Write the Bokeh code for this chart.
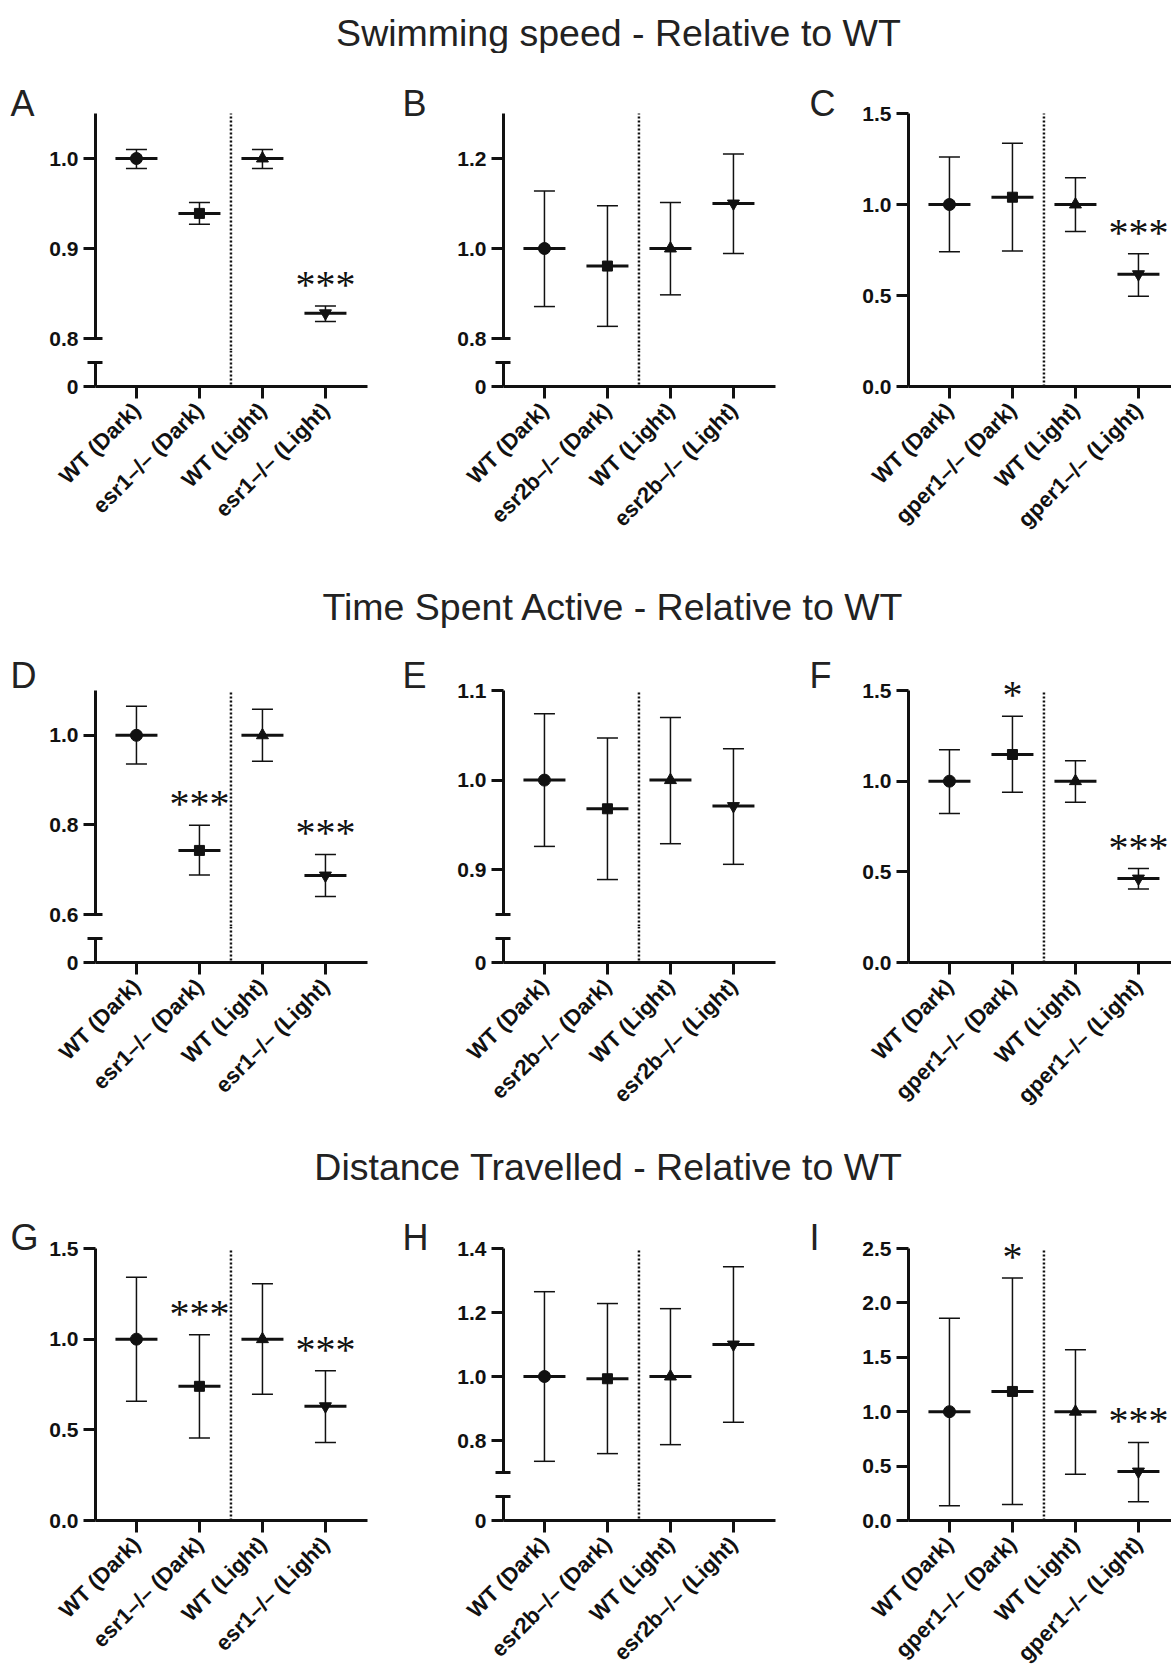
import math
from bokeh.plotting import figure
from bokeh.layouts import column, row
from bokeh.models import (Range1d, FixedTicker, Span, Whisker, TeeHead,
                          ColumnDataSource, Label, LabelSet, NumeralTickFormatter)
from bokeh.embed import file_html
from bokeh.resources import INLINE

# ---------------- data ----------------
section_titles = ["Swimming speed - Relative to WT",
                  "Time Spent Active - Relative to WT",
                  "Distance Travelled - Relative to WT"]
panel_letters = ["A", "B", "C", "D", "E", "F", "G", "H", "I"]

cats_esr1 = ["WT (Dark)", "esr1–/– (Dark)", "WT (Light)", "esr1–/– (Light)"]
cats_esr2b = ["WT (Dark)", "esr2b–/– (Dark)", "WT (Light)", "esr2b–/– (Light)"]
cats_gper1 = ["WT (Dark)", "gper1–/– (Dark)", "WT (Light)", "gper1–/– (Light)"]

# Swimming speed
speed_esr1_mean = [1.000, 0.939, 1.000, 0.828]
speed_esr1_upper = [1.010, 0.951, 1.010, 0.836]
speed_esr1_lower = [0.989, 0.927, 0.989, 0.819]
speed_esr1_sig = ["", "", "", "***"]

speed_esr2b_mean = [1.000, 0.961, 1.000, 1.100]
speed_esr2b_upper = [1.128, 1.095, 1.102, 1.210]
speed_esr2b_lower = [0.871, 0.827, 0.897, 0.989]
speed_esr2b_sig = ["", "", "", ""]

speed_gper1_mean = [1.000, 1.040, 1.000, 0.617]
speed_gper1_upper = [1.261, 1.336, 1.147, 0.730]
speed_gper1_lower = [0.740, 0.745, 0.851, 0.496]
speed_gper1_sig = ["", "", "", "***"]

# Time spent active
active_esr1_mean = [1.000, 0.743, 1.000, 0.687]
active_esr1_upper = [1.065, 0.799, 1.058, 0.734]
active_esr1_lower = [0.936, 0.688, 0.942, 0.640]
active_esr1_sig = ["", "***", "", "***"]

active_esr2b_mean = [1.000, 0.968, 1.000, 0.971]
active_esr2b_upper = [1.074, 1.047, 1.070, 1.035]
active_esr2b_lower = [0.926, 0.889, 0.929, 0.906]
active_esr2b_sig = ["", "", "", ""]

active_gper1_mean = [1.000, 1.147, 1.000, 0.463]
active_gper1_upper = [1.173, 1.358, 1.112, 0.518]
active_gper1_lower = [0.822, 0.939, 0.884, 0.406]
active_gper1_sig = ["", "*", "", "***"]

# Distance travelled
dist_esr1_mean = [1.000, 0.740, 1.000, 0.630]
dist_esr1_upper = [1.342, 1.024, 1.306, 0.826]
dist_esr1_lower = [0.658, 0.455, 0.696, 0.430]
dist_esr1_sig = ["", "***", "", "***"]

dist_esr2b_mean = [1.000, 0.993, 1.000, 1.100]
dist_esr2b_upper = [1.265, 1.228, 1.212, 1.343]
dist_esr2b_lower = [0.735, 0.759, 0.787, 0.857]
dist_esr2b_sig = ["", "", "", ""]

dist_gper1_mean = [1.000, 1.186, 1.000, 0.450]
dist_gper1_upper = [1.860, 2.229, 1.569, 0.718]
dist_gper1_lower = [0.135, 0.147, 0.425, 0.172]
dist_gper1_sig = ["", "*", "", "***"]

# y axes: tick values and drawn extent (broken axes show a segment plus 0)
yticks_A = [0.8, 0.9, 1.0];            yext_A = (0.8, 1.05);  broken_A = True
yticks_B = [0.8, 1.0, 1.2];            yext_B = (0.8, 1.3);   broken_B = True
yticks_C = [0.0, 0.5, 1.0, 1.5];       yext_C = (0.0, 1.5);   broken_C = False
yticks_D = [0.6, 0.8, 1.0];            yext_D = (0.6, 1.1);   broken_D = True
yticks_E = [0.9, 1.0, 1.1];            yext_E = (0.85, 1.1);  broken_E = True
yticks_F = [0.0, 0.5, 1.0, 1.5];       yext_F = (0.0, 1.5);   broken_F = False
yticks_G = [0.0, 0.5, 1.0, 1.5];       yext_G = (0.0, 1.5);   broken_G = False
yticks_H = [0.8, 1.0, 1.2, 1.4];       yext_H = (0.7, 1.4);   broken_H = True
yticks_I = [0.0, 0.5, 1.0, 1.5, 2.0, 2.5]; yext_I = (0.0, 2.5); broken_I = False

# ---------------- styling / layout ----------------
FONT = "Liberation Sans"
INK = "#111111"
MARKERS = ["circle", "square", "triangle", "inverted_triangle"]
MARKER_SIZES = [12, 10, 12, 12]

PAGE_W = 1171
COL_BORDER_LEFT = [95, 108, 108]
COL_FRAME_W = [272, 272, 263]
COL_BORDER_RIGHT = [28, 25, 0]
COL_LETTER_DX = [-85, -101, -99]
ROW_FRAME_H = [273, 272, 272]
TOP_EXT = 12          # px of frame above the top of the y axis
ROW_BORDER_TOP = 48
ROW_BORDER_BOTTOM = [175, 175, 157]
ROW_LETTER_DROP = [14, 9, 13]   # letter baseline below frame top
TITLE_H = [53, 69, 51]
TITLE_BASE = [32, 45, 29]
TITLE_CX = [618, 613, 608]
PX_PER_X = 63.0
X0 = -0.65
BREAK_H = 48      # px from segment bottom to x-axis
GAP_HALF = 12     # px of gap kept in the upper figure
LOW_CAP_PX = 24   # px of lower stub above x-axis
LOW_TOP = 0.1


def base_fig(**kw):
    p = figure(output_backend="svg", toolbar_location=None, **kw)
    p.outline_line_color = None
    p.xgrid.visible = False
    p.ygrid.visible = False
    p.background_fill_color = "white"
    p.border_fill_color = "white"
    return p


def style_axis(ax, standoff, size="21px"):
    ax.axis_line_width = 3
    ax.axis_line_color = INK
    ax.major_tick_line_width = 3
    ax.major_tick_line_color = INK
    ax.major_tick_out = 12
    ax.major_tick_in = 0
    ax.minor_tick_line_width = 3
    ax.minor_tick_line_color = INK
    ax.minor_tick_in = 7
    ax.minor_tick_out = 8
    ax.major_label_text_font = FONT
    ax.major_label_text_font_style = "bold"
    ax.major_label_text_font_size = size
    ax.major_label_text_color = INK
    ax.major_label_standoff = standoff


def title_strip(text, h, base, cx):
    p = base_fig(width=PAGE_W, height=h, x_range=Range1d(0, PAGE_W), y_range=Range1d(0, h),
                 x_axis_location=None, y_axis_location=None, min_border=0)
    p.add_layout(Label(x=cx, y=h - base, text=text, text_align="center",
                       text_baseline="alphabetic", text_font=FONT, text_font_size="37.5px",
                       text_color="#222222"))
    return p


def make_panel(letter, cats, mean, upper, lower, sig, yticks, yext, broken, col, r):
    bl, fw, br = COL_BORDER_LEFT[col], COL_FRAME_W[col], COL_BORDER_RIGHT[col]
    fh, bt, bb = ROW_FRAME_H[r], ROW_BORDER_TOP, ROW_BORDER_BOTTOM[r]
    xs = list(range(len(cats)))
    xr = Range1d(X0, X0 + fw / PX_PER_X)
    src = ColumnDataSource(dict(x=xs, mean=mean, upper=upper, lower=lower, sig=sig,
                                marker=MARKERS, size=MARKER_SIZES))
    divider = (len(cats) - 1) / 2.0
    lo, hi = yext
    common = dict(frame_width=fw, x_range=xr, min_border_left=bl, min_border_right=br,
                  title=letter)

    if broken:
        seg_h = fh - BREAK_H
        ppu = seg_h / (hi - lo)
        top = base_fig(frame_height=seg_h + GAP_HALF + TOP_EXT,
                       y_range=Range1d(lo - GAP_HALF / ppu, hi + TOP_EXT / ppu),
                       x_axis_location=None, min_border_top=bt, min_border_bottom=0, **common)
        low_h = BREAK_H - GAP_HALF
        common.pop("title")
        bot = base_fig(frame_height=low_h, y_range=Range1d(0, LOW_TOP * low_h / LOW_CAP_PX),
                       min_border_top=0, min_border_bottom=bb, **common)
        ya = top.yaxis[0]
        ya.ticker = FixedTicker(ticks=yticks, minor_ticks=[lo])
        ya.bounds = (lo, hi)
        ya.formatter = NumeralTickFormatter(format="0.0")
        style_axis(ya, 5)
        yb = bot.yaxis[0]
        yb.ticker = FixedTicker(ticks=[0], minor_ticks=[LOW_TOP])
        yb.bounds = (0, LOW_TOP)
        yb.formatter = NumeralTickFormatter(format="0")
        style_axis(yb, 5)
        bot.add_layout(Span(location=divider, dimension="height", line_color=INK,
                            line_width=2.5, line_dash="2 2"))
        top.segment(x0=[divider], y0=[top.y_range.start], x1=[divider], y1=[hi],
                    line_color=INK, line_width=2.5, line_dash="2 2")
    else:
        ppu = fh / (hi - lo)
        top = base_fig(frame_height=fh + TOP_EXT, y_range=Range1d(lo, hi + TOP_EXT / ppu),
                       min_border_top=bt, min_border_bottom=bb, **common)
        ya = top.yaxis[0]
        ya.ticker = FixedTicker(ticks=yticks)
        ya.bounds = (lo, hi)
        ya.formatter = NumeralTickFormatter(format="0.0")
        style_axis(ya, 5)
        top.segment(x0=[divider], y0=[lo], x1=[divider], y1=[hi],
                    line_color=INK, line_width=2.5, line_dash="2 2")
        bot = top

    t = top.title
    t.align = "left"
    t.offset = COL_LETTER_DX[col]
    t.text_font = FONT
    t.text_font_size = "36px"
    t.text_font_style = "normal"
    t.text_color = "#222222"
    try:
        # push the letter down so its baseline sits level with the axis top
        t.standoff = -2 * (ROW_LETTER_DROP[r] + 8)
    except Exception:
        t.standoff = 0

    xa = bot.xaxis[0]
    xa.ticker = FixedTicker(ticks=xs)
    xa.major_label_overrides = {i: c for i, c in zip(xs, cats)}
    xa.major_label_orientation = math.pi / 4
    style_axis(xa, 8, "22px")

    top.add_layout(Whisker(base="x", upper="upper", lower="lower", source=src,
                           line_width=1.5, line_color=INK,
                           upper_head=TeeHead(size=21, line_width=1.5, line_color=INK),
                           lower_head=TeeHead(size=21, line_width=1.5, line_color=INK)))
    top.scatter(x="x", y="mean", source=src, marker="dash", size=42, line_width=3,
                line_color=INK)
    top.scatter(x="x", y="mean", source=src, marker="marker", size="size",
                fill_color=INK, line_color=INK)
    top.add_layout(LabelSet(x="x", y="upper", text="sig", source=src, text_align="center",
                            text_baseline="alphabetic", y_offset=8, text_font=FONT,
                            text_font_size="40px", text_color=INK))
    if broken:
        return column(top, bot, spacing=0)
    return top


panel_specs = [
    (cats_esr1, speed_esr1_mean, speed_esr1_upper, speed_esr1_lower, speed_esr1_sig, yticks_A, yext_A, broken_A),
    (cats_esr2b, speed_esr2b_mean, speed_esr2b_upper, speed_esr2b_lower, speed_esr2b_sig, yticks_B, yext_B, broken_B),
    (cats_gper1, speed_gper1_mean, speed_gper1_upper, speed_gper1_lower, speed_gper1_sig, yticks_C, yext_C, broken_C),
    (cats_esr1, active_esr1_mean, active_esr1_upper, active_esr1_lower, active_esr1_sig, yticks_D, yext_D, broken_D),
    (cats_esr2b, active_esr2b_mean, active_esr2b_upper, active_esr2b_lower, active_esr2b_sig, yticks_E, yext_E, broken_E),
    (cats_gper1, active_gper1_mean, active_gper1_upper, active_gper1_lower, active_gper1_sig, yticks_F, yext_F, broken_F),
    (cats_esr1, dist_esr1_mean, dist_esr1_upper, dist_esr1_lower, dist_esr1_sig, yticks_G, yext_G, broken_G),
    (cats_esr2b, dist_esr2b_mean, dist_esr2b_upper, dist_esr2b_lower, dist_esr2b_sig, yticks_H, yext_H, broken_H),
    (cats_gper1, dist_gper1_mean, dist_gper1_upper, dist_gper1_lower, dist_gper1_sig, yticks_I, yext_I, broken_I),
]

children = []
for r in range(3):
    children.append(title_strip(section_titles[r], TITLE_H[r], TITLE_BASE[r], TITLE_CX[r]))
    panels = []
    for c in range(3):
        k = r * 3 + c
        panels.append(make_panel(panel_letters[k], *panel_specs[k], col=c, r=r))
    children.append(row(*panels, spacing=0))

page = column(*children, spacing=0)

with open("out.html", "w") as fh_out:
    fh_out.write(file_html(page, INLINE, title="Relative to WT"))
